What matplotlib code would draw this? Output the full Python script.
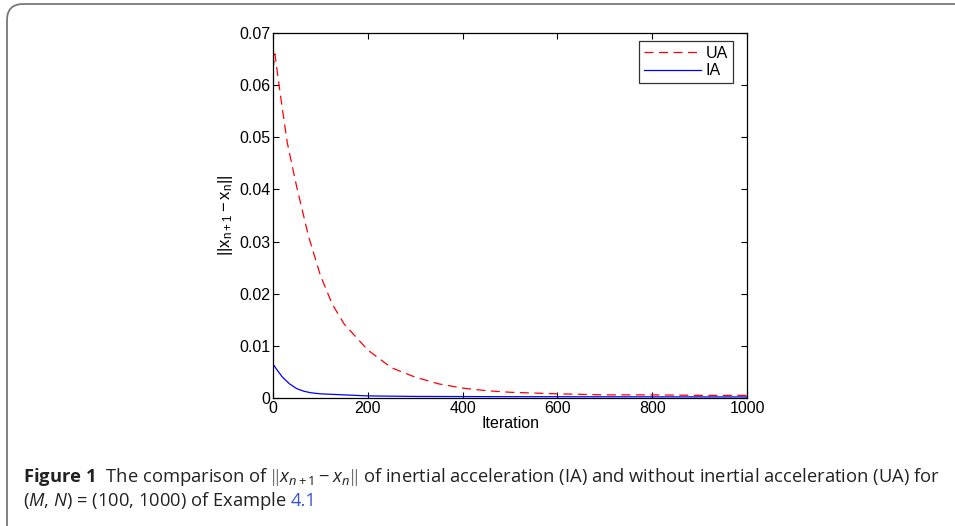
import numpy as np
import matplotlib.pyplot as plt
from matplotlib.patches import FancyBboxPatch

plt.rcParams['font.family'] = ['Liberation Sans', 'DejaVu Sans']
plt.rcParams['mathtext.fontset'] = 'custom'
plt.rcParams['mathtext.rm'] = 'Open Sans'
plt.rcParams['mathtext.it'] = 'Open Sans:italic'
plt.rcParams['mathtext.bf'] = 'Open Sans:bold'

# values
ua_iter = [0, 4, 15, 30, 50, 75, 100, 125, 150, 200, 250, 300, 350, 400,
           450, 500, 600, 700, 800, 900, 1000]
ua_err = [0.063, 0.066, 0.0585, 0.049, 0.0405, 0.031, 0.0235, 0.018, 0.0142,
          0.0092, 0.0058, 0.0040, 0.0027, 0.0019, 0.0014, 0.0011, 0.0008,
          0.0006, 0.0006, 0.0005, 0.0005]

ia_iter = [0, 10, 20, 35, 50, 65, 80, 100, 150, 200, 300, 500, 1000]
ia_err = [0.0065, 0.0052, 0.0040, 0.0027, 0.0018, 0.0013, 0.0010, 0.0008,
          0.0006, 0.0004, 0.0003, 0.00025, 0.0002]

W, H = 955, 526
fig = plt.figure(figsize=(W / 100, H / 100), dpi=100)

# rounded frame round figure + caption
frame = FancyBboxPatch((7 / W, -0.2), 1.2, 1.2 - 4 / H,
                       boxstyle='round,pad=0,rounding_size=0.017',
                       mutation_aspect=W / H,
                       transform=fig.transFigure, fill=False,
                       edgecolor='#777777', linewidth=1.3, clip_on=False)
fig.patches.append(frame)

ax = fig.add_axes([273 / W, 1 - 398 / H, (747 - 273) / W, (398 - 33) / H])
ax.plot(ua_iter, ua_err, color='red', linestyle=(0, (7.2, 4.4)), linewidth=0.9, label='UA')
ax.plot(ia_iter, ia_err, color='blue', linewidth=0.9, label='IA')

fs_ax = 11.5
ax.set_xlim(0, 1000)
ax.set_ylim(0, 0.07)
ax.set_xticks([0, 200, 400, 600, 800, 1000])
ax.set_yticks([0, 0.01, 0.02, 0.03, 0.04, 0.05, 0.06, 0.07])
ax.set_yticklabels(['0', '0.01', '0.02', '0.03', '0.04', '0.05', '0.06', '0.07'])
ax.tick_params(direction='in', top=True, right=True, labelsize=fs_ax, length=4, width=0.8, pad=2)
for s in ax.spines.values():
    s.set_linewidth(0.9)

ax.set_xlabel('Iteration', fontsize=fs_ax, labelpad=0)
ax.set_ylabel(r'$\mathregular{||x_{n+1}-x_n||}$', fontsize=fs_ax + 0.5, labelpad=3)

leg = ax.legend(loc='upper right', bbox_to_anchor=((733 - 273) / 474, (398 - 41) / 365),
                fontsize=fs_ax, frameon=True, fancybox=False,
                handlelength=3.6, handletextpad=0.3, borderpad=0.3,
                labelspacing=0.15, borderaxespad=0)
leg.get_frame().set_edgecolor('black')
leg.get_frame().set_linewidth(0.9)

cap1 = (r'$\mathbf{Figure\ 1}$  The comparison of $\Vert x_{n+1} - x_n\Vert$ of inertial '
        'acceleration (IA) and without inertial acceleration (UA) for')
cap2 = r'($M$, $N$) = (100, 1000) of Example'
fs = 13.2
fig.text(23 / W, 1 - 482 / H, cap1, fontsize=fs, family='Open Sans', va='baseline', color='#222222')
t2 = fig.text(23 / W, 1 - 506 / H, cap2, fontsize=fs, family='Open Sans', va='baseline', color='#222222')

fig.canvas.draw()
bb = t2.get_window_extent()
fig.text((bb.x1 + 4) / W, 1 - 506 / H, '4.1', fontsize=fs, family='Open Sans', va='baseline', color='#3355cc')

fig.savefig('out.png', dpi=100)
